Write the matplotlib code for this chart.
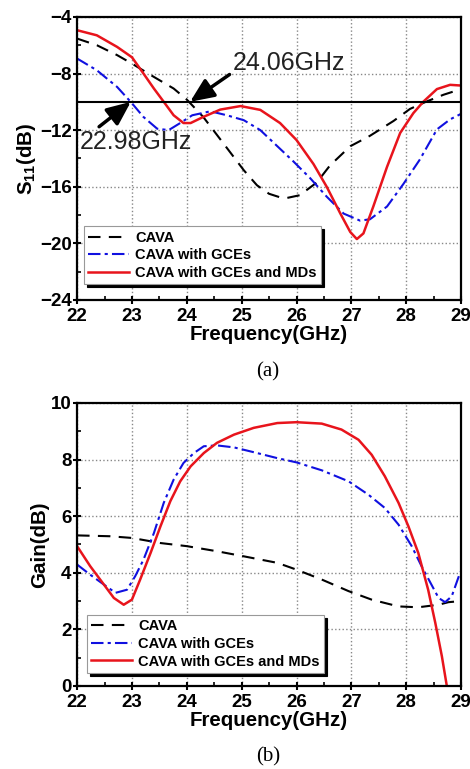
import matplotlib
matplotlib.use('Agg')
import matplotlib.pyplot as plt
from matplotlib.ticker import MultipleLocator

plt.rcParams['font.family'] = ['Liberation Sans', 'DejaVu Sans']
plt.rcParams['font.weight'] = 'bold'
plt.rcParams['mathtext.fontset'] = 'custom'
plt.rcParams['mathtext.rm'] = 'Liberation Sans:bold'
plt.rcParams['mathtext.bf'] = 'Liberation Sans:bold'

labels = ['CAVA', 'CAVA with GCEs', 'CAVA with GCEs and MDs']

# S11 (dB)
f_cava = [22, 22.36, 22.73, 23, 23.4, 23.76, 24.0, 24.3, 24.67, 25.04, 25.28, 25.5, 25.7, 25.82,
          26.06, 26.37, 26.61, 26.98, 27.34, 27.77, 28.07, 28.37, 28.68, 29]
s_cava = [-5.53, -6.0, -6.7, -7.3, -8.24, -9.06, -9.84, -11.07, -12.95, -14.84, -15.9, -16.5, -16.75, -16.8,
          -16.6, -15.7, -14.5, -13.14, -12.4, -11.35, -10.5, -9.98, -9.5, -9.1]

f_gce = [22, 22.36, 22.73, 23, 23.21, 23.46, 23.67, 23.88, 24.1, 24.43, 24.73, 25.04, 25.34, 25.64,
         25.94, 26.25, 26.55, 26.86, 27.16, 27.34, 27.65, 27.95, 28.25, 28.56, 28.8, 29]
s_gce = [-6.94, -7.77, -8.95, -10.1, -11.07, -11.9, -12.0, -11.5, -10.95, -10.67, -10.95, -11.3, -12.0, -13.1,
         -14.2, -15.4, -16.7, -17.9, -18.4, -18.3, -17.4, -15.8, -14.07, -11.95, -11.24, -10.85]

f_gmd = [22, 22.36, 22.73, 23, 23.21, 23.4, 23.58, 23.76, 23.94, 24.07, 24.3, 24.61, 24.98, 25.34,
         25.7, 26.0, 26.31, 26.55, 26.8, 26.98, 27.1, 27.22, 27.4, 27.65, 27.89, 28.13, 28.31, 28.56, 28.8, 29]
s_gmd = [-4.94, -5.3, -6.12, -6.85, -8.0, -9.06, -10.0, -10.95, -11.5, -11.5, -11.07, -10.55, -10.3, -10.57,
         -11.5, -12.7, -14.4, -16.0, -17.9, -19.2, -19.7, -19.3, -17.4, -14.6, -12.2, -10.8, -10.0, -9.1, -8.8, -8.85]

# Gain (dB)
g_f_cava = [22, 22.6, 23, 23.52, 24.0, 24.55, 25.04, 25.65, 26.0, 26.46, 26.95, 27.37, 27.86, 28.22, 28.59, 28.77, 29]
g_cava = [5.32, 5.29, 5.23, 5.05, 4.94, 4.76, 4.58, 4.35, 4.11, 3.76, 3.35, 3.05, 2.81, 2.78, 2.87, 2.96, 3.0]

g_f_gce = [22, 22.24, 22.49, 22.7, 22.91, 23.06, 23.21, 23.4, 23.58, 23.76, 23.94, 24.13, 24.31, 24.55,
           24.86, 25.22, 25.65, 26.0, 26.46, 26.95, 27.31, 27.61, 27.86, 28.1, 28.28, 28.46, 28.59, 28.71,
           28.83, 28.98, 29]
g_gce = [4.29, 3.93, 3.58, 3.29, 3.4, 3.88, 4.46, 5.4, 6.47, 7.29, 7.88, 8.23, 8.47, 8.5,
         8.43, 8.26, 8.05, 7.9, 7.62, 7.23, 6.76, 6.29, 5.7, 4.94, 4.23, 3.58, 3.11, 2.96,
         3.17, 3.99, 4.05]

g_f_gmd = [22, 22.24, 22.49, 22.67, 22.85, 23.0, 23.15, 23.34, 23.52, 23.7, 23.88, 24.07, 24.31, 24.55,
           24.86, 25.22, 25.65, 26.0, 26.46, 26.82, 27.13, 27.37, 27.61, 27.86, 28.04, 28.22, 28.4, 28.53,
           28.65, 28.74, 28.8]
g_gmd = [4.94, 4.23, 3.58, 3.11, 2.87, 3.05, 3.76, 4.7, 5.64, 6.53, 7.23, 7.76, 8.23, 8.59,
         8.88, 9.12, 9.29, 9.32, 9.27, 9.06, 8.7, 8.17, 7.41, 6.47, 5.64, 4.7, 3.4, 2.23,
         1.05, 0.0, -0.7]

blue = '#1010e0'
red = '#e8141c'

fig = plt.figure(figsize=(4.70, 7.69), dpi=100)
ax1 = fig.add_axes([0.164, 0.610, 0.817, 0.368])
ax2 = fig.add_axes([0.164, 0.108, 0.817, 0.368])


def style(ax, ymin, ymax, ymaj, ymin_step):
    ax.set_xlim(22, 29)
    ax.set_ylim(ymin, ymax)
    ax.xaxis.set_major_locator(MultipleLocator(1))
    ax.xaxis.set_minor_locator(MultipleLocator(0.5))
    ax.yaxis.set_major_locator(MultipleLocator(ymaj))
    ax.yaxis.set_minor_locator(MultipleLocator(ymin_step))
    ax.grid(True, which='major', linestyle=':', color='#888888', linewidth=1.0)
    ax.tick_params(which='major', direction='inout', length=6, width=1.5, labelsize=13.5, pad=1)
    ax.tick_params(axis='x', which='major', pad=3)
    ax.tick_params(which='minor', direction='in', length=3, width=1.2)
    for s in ax.spines.values():
        s.set_linewidth(1.6)
    for lab in ax.get_xticklabels() + ax.get_yticklabels():
        lab.set_fontweight('bold')
    ax.set_xlabel('Frequency(GHz)', fontsize=14.8, fontweight='bold', labelpad=0)


def add_legend(ax, anchor):
    leg = ax.legend(loc='lower left', bbox_to_anchor=anchor, fontsize=10.5,
                    handlelength=2.8, handletextpad=0.4, labelspacing=0.25,
                    borderpad=0.3, borderaxespad=0, fancybox=False,
                    shadow={'color': 'black', 'alpha': 1.0}, framealpha=1)
    leg.get_frame().set_edgecolor('#999999')
    leg.get_frame().set_linewidth(0.8)
    for t in leg.get_texts():
        t.set_fontweight('bold')


# top panel: S11
ax1.plot(f_cava, s_cava, color='black', linestyle=(0, (6, 4)), linewidth=1.5, label=labels[0])
ax1.plot(f_gce, s_gce, color=blue, linestyle=(0, (6, 2, 1.5, 2)), linewidth=1.5, label=labels[1])
ax1.plot(f_gmd, s_gmd, color=red, linewidth=1.8, label=labels[2])
ax1.axhline(-10, color='black', linewidth=1.5)
style(ax1, -24, -4, 4, 2)
ax1.set_ylabel(r'S$_{\mathbf{11}}$(dB)', fontsize=14.8, fontweight='bold', labelpad=1)
add_legend(ax1, (0.018, 0.055))

arrow = dict(arrowstyle='-|>,head_length=0.8,head_width=0.35', color='black', lw=2.5,
             shrinkA=0, shrinkB=0)
ax1.annotate('24.06GHz', xy=(24.06, -10), xytext=(24.83, -7.75), fontsize=18, fontweight='normal',
             color='#222222', arrowprops=dict(arrow, relpos=(0, 0.1)))
ax1.annotate('22.98GHz', xy=(22.98, -10), xytext=(22.05, -13.3), fontsize=18, fontweight='normal',
             color='#222222', arrowprops=dict(arrow, relpos=(0.14, 1.0)))

# bottom panel: gain
ax2.plot(g_f_cava, g_cava, color='black', linestyle=(0, (6, 4)), linewidth=1.5, label=labels[0])
ax2.plot(g_f_gce, g_gce, color=blue, linestyle=(0, (6, 2, 1.5, 2)), linewidth=1.5, label=labels[1])
ax2.plot(g_f_gmd, g_gmd, color=red, linewidth=1.8, label=labels[2])
style(ax2, 0, 10, 2, 1)
ax2.set_ylabel('Gain(dB)', fontsize=14.8, fontweight='bold', labelpad=1)
add_legend(ax2, (0.026, 0.046))

fig.text(0.57, 1 - 372 / 769, '(a)', ha='center', va='center', fontsize=15,
         family=['Liberation Serif'], fontweight='normal')
fig.text(0.57, 1 - 757 / 769, '(b)', ha='center', va='center', fontsize=15,
         family=['Liberation Serif'], fontweight='normal')

fig.savefig('out.png', dpi=100)
